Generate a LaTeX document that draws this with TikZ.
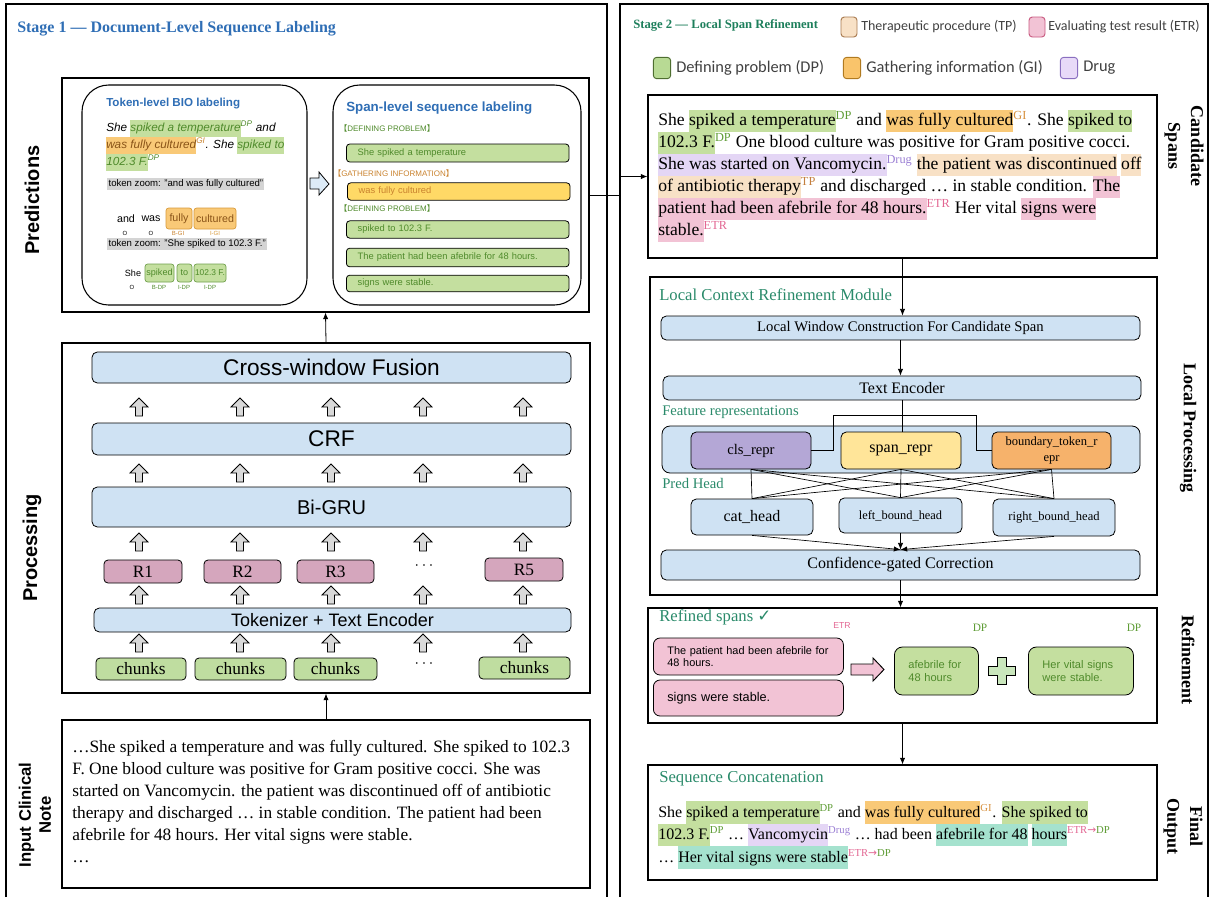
\documentclass[tikz,border=0pt]{standalone}
\usepackage{fontspec}
\setmainfont{Liberation Serif}
\setsansfont{Liberation Sans}
\newfontfamily\legendfont{Carlito}
\newfontfamily\symfont{DejaVu Sans}
\newfontfamily\cjk{Noto Sans CJK SC}
\usepackage{xcolor}
\usetikzlibrary{arrows.meta, fit, positioning}

\definecolor{barblue}{HTML}{CFE2F3}
\definecolor{hlgreen}{HTML}{C4DF9F}
\definecolor{hlorange}{HTML}{F9C977}
\definecolor{hlpurple}{HTML}{E4D6F5}
\definecolor{hlpeach}{HTML}{F8E1C6}
\definecolor{hlpink}{HTML}{F2C3D5}
\definecolor{hlteal}{HTML}{A5E2CE}
\definecolor{tagdp}{HTML}{5E9C35}
\definecolor{taggi}{HTML}{D68F3C}
\definecolor{tagdrug}{HTML}{9B7FD4}
\definecolor{tagtp}{HTML}{C47F3E}
\definecolor{tagetr}{HTML}{E26692}
\definecolor{stageblue}{HTML}{2F6EB5}
\definecolor{stagegreen}{HTML}{1E7F5C}
\definecolor{modteal}{HTML}{2A8A6A}
\definecolor{rpink}{HTML}{D5A6BD}
\definecolor{chunkgreen}{HTML}{BFDDA0}
\definecolor{arrowgrey}{HTML}{D9D9D9}
\definecolor{arrowblue}{HTML}{DDEBF7}
\definecolor{clscol}{HTML}{B4A7D6}
\definecolor{spancol}{HTML}{FFE599}
\definecolor{bdcol}{HTML}{F6B26B}
\definecolor{spanyellow}{HTML}{FFD966}
\definecolor{greentext}{HTML}{4F8A2B}
\definecolor{orangetext}{HTML}{C9822E}
\definecolor{tokbrown}{HTML}{8A5418}
\definecolor{oredge}{HTML}{D89A3A}
\definecolor{gredge}{HTML}{6E9E4A}
\definecolor{zoomgrey}{HTML}{D4D4D4}
\definecolor{legtext}{HTML}{404040}
\definecolor{tpedge}{HTML}{A87A50}
\definecolor{etredge}{HTML}{C85A80}
\definecolor{dpedge}{HTML}{4E6E30}
\definecolor{giedge}{HTML}{B07A20}
\definecolor{drugedge}{HTML}{8A6FC0}
\definecolor{swdp}{HTML}{B8DA94}
\definecolor{swgi}{HTML}{F9C46B}
\definecolor{swdrug}{HTML}{E8DAF8}
\definecolor{plusgreen}{HTML}{C9E6BC}

\newcommand{\fsz}[2]{\fontsize{#1}{#2}\selectfont}
\newcommand{\hlx}[2]{{\setlength{\fboxsep}{0pt}\colorbox{#1}{\strut #2}}}
\newcommand{\tg}[2]{\textsuperscript{\textcolor{#1}{#2}}}
\newcommand{\tgshift}{\textsuperscript{\textcolor{tagetr}{ETR{\symfont →}}\textcolor{tagdp}{DP}}}

\tikzset{uparr/.pic={\filldraw[fill=arrowgrey, line width=0.6pt, line join=miter] (-3.5,9) -- (-3.5,0) -- (-9,0) -- (0,-9) -- (9,0) -- (3.5,0) -- (3.5,9) -- cycle;}}

\begin{document}
\begin{tikzpicture}[x=0.75pt, y=-0.75pt, >={Latex[length=5pt,width=4pt]},
  every node/.style={inner sep=0pt},
  corners/.style args={#1/#2/#3/#4}{minimum width={(#3-#1)*0.75pt}, minimum height={(#4-#2)*0.75pt}, at={({(#1+#3)/2},{(#2+#4)/2})}},
  stageframe/.style={draw, line width=0.9pt},
  panel/.style={draw, line width=0.8pt, inner sep=0pt},
  bar/.style={draw, fill=barblue, rounded corners=4pt, line width=0.6pt, inner sep=0pt},
  rnode/.style={draw, fill=rpink, rounded corners=3pt, line width=0.6pt, font=\fsz{13}{14}},
  chunkbox/.style={draw, fill=chunkgreen, rounded corners=3pt, line width=0.6pt, font=\fsz{13}{14}},
  tokor/.style={draw=oredge, fill=hlorange, rounded corners=2pt, line width=0.5pt, text=tokbrown, font=\sffamily\fsz{8}{9}},
  tokgr/.style={draw=gredge, fill=hlgreen, rounded corners=2pt, line width=0.5pt, text=greentext, font=\sffamily\fsz{6.8}{8}},
  toklbl/.style={font=\sffamily\fsz{4.5}{5}},
  spbar/.style={draw, rounded corners=2.5pt, line width=0.6pt, anchor=west, inner xsep=8.5pt, text width=150pt, align=left, font=\sffamily\fsz{7}{8}},
  spcat/.style={anchor=west, font=\sffamily\fsz{6}{7}},
  featnode/.style={draw, rounded corners=4pt, line width=0.6pt, align=center},
  headbox/.style={draw, fill=barblue, rounded corners=4pt, line width=0.6pt},
  modlbl/.style={anchor=west, text=modteal},
  swatch/.style={draw, rounded corners=2.5pt, line width=0.7pt, minimum width=12pt, minimum height=15pt},
  legtxt/.style={anchor=west, text=legtext},
  pinkbox/.style={draw, fill=hlpink, rounded corners=5pt, line width=0.6pt, anchor=west, inner xsep=10.5pt, text width=121.5pt, align=left},
  greenbox/.style={draw, fill=hlgreen, rounded corners=6pt, line width=0.6pt, anchor=west, inner xsep=10.5pt, align=left, text=greentext, font=\sffamily\fsz{8.3}{10}},
  vlabel/.style={rotate=90, align=center, font=\sffamily\bfseries\fsz{15}{17}},
  rlabel/.style={rotate=-90, align=center, font=\bfseries\fsz{13.5}{17}}
]
\useasboundingbox (0,0) rectangle (1210,897);

\draw[stageframe] (6,897) -- (6,4) -- (607,4) -- (607,897);
\draw[stageframe] (620,897) -- (620,4) -- (1208,4) -- (1208,897);
\node[anchor=west, text=stageblue, font=\bfseries\fsz{12}{14}] (stageone) at (17,29) {Stage 1 — Document-Level Sequence Labeling};

\node[vlabel] (lblpred) at (32,200) {Predictions};
\node[vlabel] (lblproc) at (32,548) {Processing};
\node[vlabel, font=\sffamily\bfseries\fsz{12.5}{15}] (lblinput) at (35,815) {Input Clinical\\Note};

\node[panel, fit={(62,78) (589,312)}] (pred) {};
\node[draw, line width=0.8pt, rounded corners=20pt, fit={(82,85) (307,305)}] (tokbox) {};
\node[draw, line width=0.8pt, rounded corners=20pt, fit={(333,85) (581,305)}] (spanbox) {};
\filldraw[fill=arrowblue, line width=0.6pt, line join=miter] (310,178) -- (319,178) -- (319,172) -- (329,184) -- (319,195) -- (319,189) -- (310,189) -- cycle;

\node[anchor=west, text=stageblue, font=\sffamily\bfseries\fsz{8.7}{10}] (toktitle) at (106,104) {Token-level BIO labeling};
\node[anchor=north west, align=left, font=\sffamily\itshape\fsz{8.8}{12.75}] (toktext) at (106,119.5) {She \hlx{hlgreen}{\textcolor{greentext}{spiked a temperature}}\tg{greentext}{DP} and\\
\hlx{hlorange}{\textcolor{tokbrown}{was fully cultured}}\tg{orangetext}{GI}. She \hlx{hlgreen}{\textcolor{greentext}{spiked to}}\\
\hlx{hlgreen}{\textcolor{greentext}{102.3 F.}}\tg{greentext}{DP}};
\node[anchor=west, fill=zoomgrey, minimum height=9pt, inner xsep=1pt, font=\sffamily\fsz{7.2}{8}] (zoomone) at (107,184) {token zoom: "and was fully cultured"};
\node[font=\sffamily\fsz{8}{9}] (tand) at (126,219) {and};
\node[font=\sffamily\fsz{8}{9}] (twas) at (151,219) {was};
\node[tokor, corners=166/208/192/229] (tfully) {fully};
\node[tokor, corners=194/208/236/229] (tcult) {cultured};
\node[toklbl] (lo1) at (125,233) {O};
\node[toklbl] (lo2) at (151,233) {O};
\node[toklbl, text=orangetext] (lbgi) at (178,233) {B-GI};
\node[toklbl, text=oredge] (ligi) at (215,233) {I-GI};
\node[anchor=west, fill=zoomgrey, minimum height=9pt, inner xsep=1pt, font=\sffamily\fsz{7.2}{8}] (zoomtwo) at (107,244) {token zoom: "She spiked to 102.3 F."};
\node[font=\sffamily\fsz{6.8}{8}] (tshe) at (133,273) {She};
\node[tokgr, corners=145/264/174/282] (tspiked) {spiked};
\node[tokgr, corners=177/264/192/282] (tto) {to};
\node[tokgr, corners=194/264/226/282, font=\sffamily\fsz{6.3}{8}] (tnum) {102.3 F.};
\node[toklbl] (lo3) at (132,287) {O};
\node[toklbl, text=greentext] (lbdp) at (159,287) {B-DP};
\node[toklbl, text=greentext] (lidp1) at (184,287) {I-DP};
\node[toklbl, text=greentext] (lidp2) at (210,287) {I-DP};

\node[anchor=west, text=stageblue, font=\sffamily\bfseries\fsz{10}{12}] (spantitle) at (346,108) {Span-level sequence labeling};
\node[spcat, text=greentext] (catdp1) at (339,128) {{\cjk 【}DEFINING PROBLEM{\cjk 】}};
\node[spbar, fill=hlgreen, text=greentext, minimum height=13.5pt] (sp1) at (346,153) {She spiked a temperature};
\node[spcat, text=orangetext] (catgi) at (333,173) {{\cjk 【}GATHERING INFORMATION{\cjk 】}};
\node[spbar, fill=spanyellow, text=orangetext, minimum height=13pt] (sp2) at (347,191.5) {was fully cultured};
\node[spcat, text=greentext] (catdp2) at (339,208) {{\cjk 【}DEFINING PROBLEM{\cjk 】}};
\node[spbar, fill=hlgreen, text=greentext, minimum height=13pt] (sp3) at (346,229.5) {spiked to 102.3 F.};
\node[spbar, fill=hlgreen, text=greentext, minimum height=14pt] (sp4) at (346,257.5) {The patient had been afebrile for 48 hours.};
\node[spbar, fill=hlgreen, text=greentext, minimum height=12.5pt] (sp5) at (346,283.5) {signs were stable.};

\node[panel, fit={(62,343) (590,693)}] (proc) {};
\node[bar, corners=92/352/571/383, font=\sffamily\fsz{17}{18}] (fusion) {Cross-window Fusion};
\node[bar, corners=92/423/571/455, font=\sffamily\fsz{17}{18}] (crf) {CRF};
\node[bar, corners=92/487/571/527, font=\sffamily\fsz{15}{16}] (bigru) {Bi-GRU};
\node[rnode, corners=104/560/182/583] (rone) {R1};
\node[rnode, corners=204/560/281/583] (rtwo) {R2};
\node[rnode, corners=297/560/374/583] (rthree) {R3};
\node[font=\fsz{13}{14}] (rdots) at (424,566) {$\cdots$};
\node[rnode, corners=485/558/563/581] (rfive) {R5};
\node[bar, corners=94/608/571/632, font=\sffamily\fsz{13.5}{14}] (tokenizer) {Tokenizer + Text Encoder};
\node[chunkbox, corners=96/658/186/680] (chunka) {chunks};
\node[chunkbox, corners=195/658/286/680] (chunkb) {chunks};
\node[chunkbox, corners=294/658/377/680] (chunkc) {chunks};
\node[font=\fsz{13}{14}] (cdots) at (424,664) {$\cdots$};
\node[chunkbox, corners=479/657/570/679] (chunkd) {chunks};
\foreach \y in {407,473,542,595,643} {
  \foreach \x in {139,240,331,423,523} {
    \pic at (\x,\y) {uparr};
  }
}

\node[panel, fit={(62,720) (590,888)}] (note) {};
\node[anchor=north west, align=left, font=\fsz{13}{16.5}] (notetext) at (72,740) {…She spiked a temperature and was fully cultured. She spiked to 102.3\\
F. One blood culture was positive for Gram positive cocci. She was\\
started on Vancomycin. the patient was discontinued off of antibiotic\\
therapy and discharged … in stable condition. The patient had been\\
afebrile for 48 hours. Her vital signs were stable.\\
…};

\draw[->, line width=0.6pt] (note.north) -- (proc.south);
\draw[->, line width=0.6pt] (proc.north) -- (pred.south);

\node[anchor=west, text=stagegreen, font=\bfseries\fsz{9.5}{11}] (stagetwo) at (633,25) {Stage 2 — Local Span Refinement};
\node[swatch, fill=hlpeach, draw=tpedge] (swtp) at (849,27) {};
\node[legtxt, font=\legendfont\fsz{10.5}{12}] (legtp) at (861,27) {Therapeutic procedure (TP)};
\node[swatch, fill=hlpink, draw=etredge] (swetr) at (1037,27) {};
\node[legtxt, font=\legendfont\fsz{10.5}{12}] (legetr) at (1048,27) {Evaluating test result (ETR)};
\node[swatch, fill=swdp, draw=dpedge, minimum width=13pt, minimum height=16pt] (swdp) at (662,68) {};
\node[legtxt, font=\legendfont\fsz{12.3}{14}] (legdp) at (676,68) {Defining problem (DP)};
\node[swatch, fill=swgi, draw=giedge, minimum width=13pt, minimum height=16pt] (swgi) at (852,68) {};
\node[legtxt, font=\legendfont\fsz{12.3}{14}] (leggi) at (866,68) {Gathering information (GI)};
\node[swatch, fill=swdrug, draw=drugedge, minimum width=13pt, minimum height=16pt] (swdrug) at (1069,68) {};
\node[legtxt, font=\legendfont\fsz{12.3}{14}] (legdrug) at (1083,68) {Drug};

\node[rlabel] (lblcand) at (1184,146) {Candidate\\Spans};
\node[rlabel] (lbllocal) at (1188,428) {Local Processing};
\node[rlabel] (lblrefine) at (1188,660) {Refinement};
\node[rlabel] (lblfinal) at (1183,826) {Final\\Output};

\node[panel, fit={(648,95) (1157,258)}] (cand) {};
\node[anchor=north west, align=left, font=\fsz{13.2}{16.5}] (candtext) at (658,110) {She \hlx{hlgreen}{spiked a temperature}\tg{tagdp}{DP} and \hlx{hlorange}{was fully cultured}\tg{taggi}{GI}. She \hlx{hlgreen}{spiked to}\\
\hlx{hlgreen}{102.3 F.}\tg{tagdp}{DP} One blood culture was positive for Gram positive cocci.\\
\hlx{hlpurple}{She was started on Vancomycin.}\tg{tagdrug}{Drug} \hlx{hlpeach}{the patient was discontinued} \hlx{hlpeach}{off}\\
\hlx{hlpeach}{of antibiotic therapy}\tg{tagtp}{TP} and discharged … in stable condition. \hlx{hlpink}{The}\\
\hlx{hlpink}{patient had been afebrile for 48 hours.}\tg{tagetr}{ETR} Her vital \hlx{hlpink}{signs were}\\
\hlx{hlpink}{stable.}\tg{tagetr}{ETR}};
\draw[->, line width=0.6pt] (pred.east) -- ++(31,0) |- (cand.west);

\node[panel, fit={(650,277) (1157,595)}] (lcrm) {};
\node[modlbl, font=\fsz{12.5}{14}] (lcrmtitle) at (659,295) {Local Context Refinement Module};
\node[bar, corners=661/316/1140/340, font=\fsz{11}{12}] (lwc) {Local Window Construction For Candidate Span};
\node[bar, corners=663/376/1141/400, font=\fsz{12}{13}] (tenc) {Text Encoder};
\node[modlbl, font=\fsz{11}{12}] (featlbl) at (662,412) {Feature representations};
\node[bar, rounded corners=6pt, corners=662/426/1140/473] (featrow) {};
\node[featnode, fill=clscol, corners=691/432/811/469, font=\fsz{11}{12}] (cls) {cls\_repr};
\node[featnode, fill=spancol, corners=841/432/961/469, font=\fsz{12}{13}] (span) {span\_repr};
\node[featnode, fill=bdcol, corners=992/432/1111/469, font=\fsz{9.4}{12}] (bd) {boundary\_token\_r\\epr};
\node[modlbl, font=\fsz{11}{12}] (predlbl) at (662,483) {Pred Head};
\node[headbox, corners=691/499/813/535, font=\fsz{12}{13}] (cat) {cat\_head};
\node[headbox, corners=839/498/962/533, font=\fsz{9.3}{11}] (lbh) {left\_bound\_head};
\node[headbox, corners=993/499/1115/536, font=\fsz{9.4}{11}] (rbh) {right\_bound\_head};
\node[bar, corners=661/550/1140/580, font=\fsz{12}{13}] (conf) {Confidence-gated Correction};

\draw[->, line width=0.6pt] (cand.south) -- (cand.south |- lwc.north);
\draw[->, line width=0.6pt] (lwc.south) -- (lwc.south |- tenc.north);
\draw[line width=0.6pt] (tenc.south) -- (tenc.south |- span.north);
\draw[line width=0.6pt] (cls.east) -| (833,415) -| (976,450.5) -- (bd.west);
\foreach \f in {cls,span,bd} {
  \foreach \h in {cat,lbh,rbh} {
    \draw[line width=0.5pt] (\f.south) -- (\h.north);
  }
}
\foreach \h in {cat,lbh,rbh} {
  \draw[->, line width=0.5pt] (\h.south) -- (conf.north);
}

\node[panel, fit={(648,608) (1157,723)}] (refined) {};
\node[modlbl, font=\fsz{12.5}{14}] (reftitle) at (659,617) {Refined spans {\symfont ✓}};
\node[text=tagetr, font=\sffamily\fsz{6.5}{7}] (etrlbl) at (842,626) {ETR};
\node[text=tagdp, font=\fsz{8.5}{9}] (dplbla) at (980,628) {DP};
\node[text=tagdp, font=\fsz{8.5}{9}] (dplblb) at (1134,628) {DP};
\node[pinkbox, minimum height=27.75pt, font=\sffamily\fsz{8.2}{9.5}] (pinka) at (653,656.5) {The patient had been afebrile for\\48 hours.};
\node[pinkbox, minimum height=27pt, font=\sffamily\fsz{9.5}{11}] (pinkb) at (653,698) {signs were stable.};
\filldraw[fill=hlpink, line width=0.7pt, line join=miter] (851,664) -- (873,664) -- (873,658) -- (884,669.5) -- (873,681) -- (873,675) -- (851,675) -- cycle;
\node[greenbox, minimum height=36pt, text width=42pt] (afeb) at (894,671) {afebrile for\\48 hours};
\filldraw[fill=plusgreen, line width=0.7pt, line join=miter] (997.5,657) -- (1006.5,657) -- (1006.5,666) -- (1015.5,666) -- (1015.5,675) -- (1006.5,675) -- (1006.5,684) -- (997.5,684) -- (997.5,675) -- (988.5,675) -- (988.5,666) -- (997.5,666) -- cycle;
\node[greenbox, minimum height=36pt, text width=57.75pt] (vital) at (1028,671) {Her vital signs\\were stable.};

\node[panel, fit={(648,765) (1157,880)}] (final) {};
\node[modlbl, font=\fsz{12.5}{14}] (fintitle) at (659,779) {Sequence Concatenation};
\node[anchor=north west, align=left, font=\fsz{12}{16.9}] (fintext) at (658,801) {She \hlx{hlgreen}{spiked a temperature}\tg{tagdp}{DP} and \hlx{hlorange}{was fully cultured}\tg{taggi}{GI}. \hlx{hlgreen}{She spiked to}\\
\hlx{hlgreen}{102.3 F.}\tg{tagdp}{DP} … \hlx{hlpurple}{Vancomycin}\tg{tagdrug}{Drug} … had been \hlx{hlteal}{afebrile for 48} \hlx{hlteal}{hours}\tgshift\\
… \hlx{hlteal}{Her vital signs were stable}\tgshift};

\draw[->, line width=0.6pt] (conf.south) -- (conf.south |- refined.north);
\draw[->, line width=0.6pt] (refined.south) -- (refined.south |- final.north);
\end{tikzpicture}
\end{document}
